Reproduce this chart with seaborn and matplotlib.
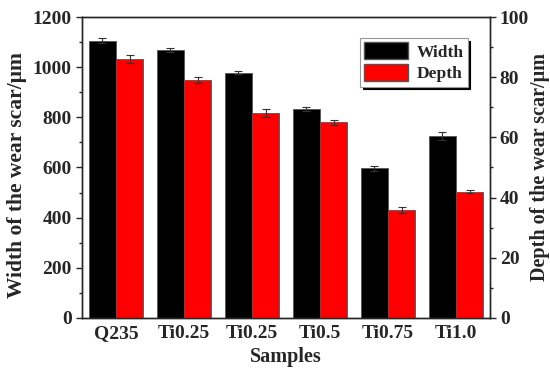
import matplotlib
matplotlib.use('Agg')
import numpy as np
import pandas as pd
import matplotlib.pyplot as plt
import seaborn as sns
from matplotlib.ticker import MultipleLocator
from matplotlib.patches import Patch

samples = ["Q235", "Ti0.25", "Ti0.25", "Ti0.5", "Ti0.75", "Ti1.0"]
width = [1105, 1068, 978, 833, 597, 727]
width_err = [10, 8, 5, 8, 10, 16]
depth = [86.0, 79.0, 68.0, 65.0, 36.0, 42.0]
depth_err = [1.3, 1.0, 1.3, 0.9, 1.0, 0.5]

sns.set_style("ticks")
plt.rcParams['font.family'] = ['Liberation Serif', 'DejaVu Serif']
plt.rcParams['font.weight'] = 'bold'
plt.rcParams['axes.labelweight'] = 'bold'

n = len(samples)
idx = list(range(n))
df = pd.DataFrame({
    "pos": idx * 2,
    "series": ["Width"] * n + ["Depth"] * n,
    "w": width + [np.nan] * n,
    "d": [np.nan] * n + depth,
})

fig = plt.figure(figsize=(5.5, 3.78), dpi=100)
ax = fig.add_axes([0.149, 0.159, 0.742, 0.796])
ax2 = ax.twinx()

pal = {"Width": "black", "Depth": "#ff0000"}
sns.barplot(data=df, x="pos", y="w", hue="series", hue_order=["Width", "Depth"],
            palette=pal, edgecolor="#555555", linewidth=0.6, width=0.8,
            saturation=1, ax=ax, legend=False, errorbar=None)
sns.barplot(data=df, x="pos", y="d", hue="series", hue_order=["Width", "Depth"],
            palette=pal, edgecolor="#555555", linewidth=0.6, width=0.8,
            saturation=1, ax=ax2, legend=False, errorbar=None)

# error bars at bar centres
wb = [p for p in ax.patches if p.get_height() > 0]
wb.sort(key=lambda p: p.get_x())
ax.errorbar([p.get_x() + p.get_width() / 2 for p in wb], width, yerr=width_err,
            fmt='none', ecolor='#333333', elinewidth=0.8, capsize=3, capthick=0.8)
db = [p for p in ax2.patches if p.get_height() > 0]
db.sort(key=lambda p: p.get_x())
ax2.errorbar([p.get_x() + p.get_width() / 2 for p in db], depth, yerr=depth_err,
             fmt='none', ecolor='#333333', elinewidth=0.8, capsize=3, capthick=0.8)

ax.set_xlim(-0.5, n - 0.5)
ax.set_ylim(0, 1200)
ax2.set_ylim(0, 100)
ax.set_xticks(idx)
ax.set_xticklabels(samples)
ax.yaxis.set_major_locator(MultipleLocator(200))
ax.yaxis.set_minor_locator(MultipleLocator(100))
ax2.yaxis.set_major_locator(MultipleLocator(20))
ax2.yaxis.set_minor_locator(MultipleLocator(10))

for a in (ax, ax2):
    a.tick_params(axis='y', which='major', length=4, width=1, labelsize=14)
    a.tick_params(axis='y', which='minor', length=2.5, width=1)
    for s in a.spines.values():
        s.set_linewidth(1.0)
ax2.tick_params(axis='y', which='major', pad=3)
ax.tick_params(axis='x', length=0, labelsize=14, pad=5)

ax.set_xlabel("Samples", fontsize=14.5, fontweight='bold', labelpad=4)
ax.set_ylabel("Width of the wear scar/μm", fontsize=15.5, fontweight='bold')
ax.yaxis.set_label_coords(-0.135, 0.475)
ax2.set_ylabel("Depth of the wear scar/μm", fontsize=14.5, fontweight='bold',
               labelpad=1)

handles = [Patch(facecolor='black', edgecolor='#555555'),
           Patch(facecolor='#ff0000', edgecolor='#555555')]
leg = ax2.legend(handles, ["Width", "Depth"], loc='upper left',
                 bbox_to_anchor=(0.681, 0.93), frameon=True,
                 shadow={'color': 'black', 'alpha': 1},
                 fancybox=False, prop={'size': 12.5, 'weight': 'bold'},
                 handlelength=2.5, handleheight=1.1, borderpad=0.25,
                 labelspacing=0.2, handletextpad=0.5, borderaxespad=0)
leg.get_frame().set_edgecolor('#999999')
leg.get_frame().set_linewidth(0.8)

fig.savefig("out.png", dpi=100)
